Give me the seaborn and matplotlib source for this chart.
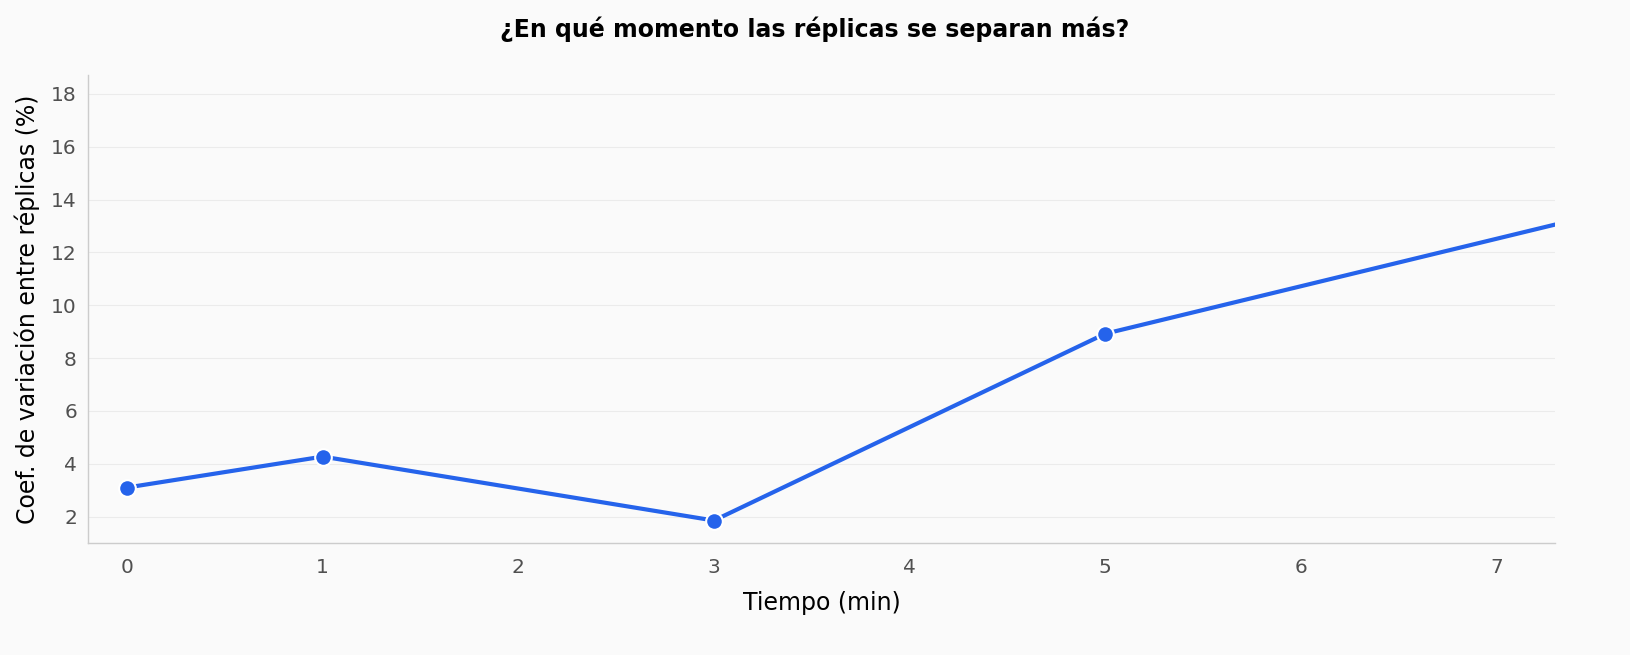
import matplotlib
matplotlib.use("Agg")
import matplotlib.pyplot as plt
import pandas as pd
import seaborn as sns

# datos
tiempo = [0, 1, 3, 5, 10]
cv_replicas = [3.1, 4.27, 1.85, 8.92, 17.9]

df = pd.DataFrame({"Tiempo (min)": tiempo, "CV (%)": cv_replicas})

sns.set_theme(style="white")
plt.rcParams['font.family'] = ['DejaVu Sans']

fig = plt.figure(figsize=(16.3, 6.55), dpi=100, facecolor="#fafafa")
ax = fig.add_axes([0.054, 0.171, 0.9, 0.714])
ax.set_facecolor("#fafafa")

sns.lineplot(data=df, x="Tiempo (min)", y="CV (%)", ax=ax, color="#2563eb",
             linewidth=3, marker="o", markersize=12,
             markeredgecolor="white", markeredgewidth=1.5)

ax.set_xlim(-0.2, 7.3)
ax.set_ylim(1.0, 18.7)
ax.set_yticks([2, 4, 6, 8, 10, 12, 14, 16, 18])
ax.set_xticks(range(0, 8))

ax.grid(axis="y", color="#ebebeb", linewidth=0.8)
ax.set_axisbelow(True)
for s in ["top", "right"]:
    ax.spines[s].set_visible(False)
for s in ["left", "bottom"]:
    ax.spines[s].set_color("#cccccc")
    ax.spines[s].set_linewidth(1)

ax.tick_params(axis="x", length=5, color="#666666", labelsize=14.5, labelcolor="#505050", pad=6)
ax.tick_params(axis="y", length=0, labelsize=14.5, labelcolor="#505050", pad=8)

ax.set_xlabel("Tiempo (min)", fontsize=17, labelpad=10, color="black")
ax.set_ylabel("Coef. de variación entre réplicas (%)", fontsize=17, labelpad=8, color="black")
fig.suptitle("¿En qué momento las réplicas se separan más?", fontsize=17, fontweight="bold",
             y=0.975, color="black")

fig.savefig("out.png", dpi=100, facecolor=fig.get_facecolor())
